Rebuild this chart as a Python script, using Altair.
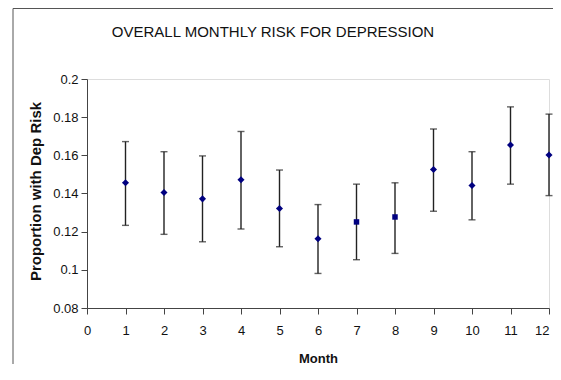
import altair as alt
import pandas as pd

months = [1, 2, 3, 4, 5, 6, 7, 8, 9, 10, 11, 12]
risk = [0.1456, 0.1405, 0.1372, 0.1472, 0.1321, 0.1163, 0.1251, 0.1277, 0.1526, 0.1442, 0.1654, 0.1602]
lower = [0.1233, 0.1186, 0.1147, 0.1214, 0.1121, 0.0981, 0.1053, 0.1086, 0.1307, 0.1262, 0.1449, 0.1389]
upper = [0.1672, 0.1619, 0.1597, 0.1725, 0.1523, 0.1342, 0.1449, 0.1456, 0.1738, 0.1619, 0.1854, 0.1816]
markers = ["diamond"] * 6 + ["square", "square"] + ["diamond"] * 4
x_ticks = list(range(0, 13))
y_ticks = [0.08, 0.1, 0.12, 0.14, 0.16, 0.18, 0.2]
title_text = "OVERALL MONTHLY RISK FOR DEPRESSION"

df = pd.DataFrame({"month": months, "risk": risk, "lower": lower, "upper": upper, "marker": markers})

FONT = "Liberation Sans, Arial, sans-serif"
AXC = "#444444"

x_axis = alt.Axis(values=x_ticks, title="Month", grid=False, tickSize=6, labelPadding=10,
                  labelFontSize=13, labelColor="#111", titleFontSize=13, titleFontWeight="bold",
                  titlePadding=15, titleColor="#111", domainColor=AXC, tickColor=AXC,
                  labelFont=FONT, titleFont=FONT, labelFlush=False, labelOverlap=False,
                  labelAlign={"condition": {"test": "datum.value == 12", "value": "right"},
                              "value": "center"})
y_axis = alt.Axis(values=y_ticks, title="Proportion with Dep Risk", grid=False, tickSize=6,
                  labelPadding=3, labelFontSize=13, labelColor="#111", labelExpr="format(datum.value, '.2~f')",
                  titleFontSize=15, titleFontWeight="bold", titleColor="#111", titleX=-52, titleY=112,
                  titleAlign="center", titleBaseline="middle", titleAngle=-90,
                  domainColor=AXC, tickColor=AXC, labelFont=FONT, titleFont=FONT, labelFlush=False,
                  labelOverlap=False)
xscale = alt.Scale(domain=[0, 12], nice=False, zero=False)
yscale = alt.Scale(domain=[0.08, 0.2], nice=False, zero=False)


def X():
    return alt.X("month:Q", scale=xscale, axis=x_axis)


def Y(field):
    return alt.Y(field, scale=yscale, axis=y_axis)


base = alt.Chart(df)
bars = base.mark_rule(color="#222222", strokeWidth=1.4).encode(x=X(), y=Y("lower:Q"), y2="upper:Q")
cap_hi = base.mark_tick(color="#222222", orient="horizontal", size=7, thickness=1.4).encode(
    x=X(), y=Y("upper:Q"))
cap_lo = base.mark_tick(color="#222222", orient="horizontal", size=7, thickness=1.4).encode(
    x=X(), y=Y("lower:Q"))
pts_d = base.transform_filter(alt.datum.marker == "diamond").mark_point(
    filled=True, size=50, color="#000080", opacity=1, shape="diamond").encode(x=X(), y=Y("risk:Q"))
pts_s = base.transform_filter(alt.datum.marker == "square").mark_point(
    filled=True, size=30, color="#000080", opacity=1, shape="square").encode(x=X(), y=Y("risk:Q"))

title = alt.Chart(pd.DataFrame({"t": [title_text]})).mark_text(
    font=FONT, fontSize=15, color="#111", baseline="middle", align="center").encode(
    text="t:N", x=alt.value(186), y=alt.value(-47))

border_left = alt.Chart(pd.DataFrame({"a": [0]})).mark_rule(color="#555555", strokeWidth=1).encode(
    x=alt.value(-74), y=alt.value(-70.5), y2=alt.value(285))
border_top = alt.Chart(pd.DataFrame({"a": [0]})).mark_rule(color="#555555", strokeWidth=1).encode(
    x=alt.value(-74), x2=alt.value(466), y=alt.value(-70.5))

chart = alt.layer(bars, cap_hi, cap_lo, pts_d, pts_s, title, border_left, border_top).properties(
    width=462, height=229,
    autosize=alt.AutoSizeParams(type="none"),
    padding={"left": 79, "top": 71, "right": 4, "bottom": 64},
).configure_view(stroke=None).configure(background="white")

chart.save("out.html", embed_options={"renderer": "svg", "actions": False})
